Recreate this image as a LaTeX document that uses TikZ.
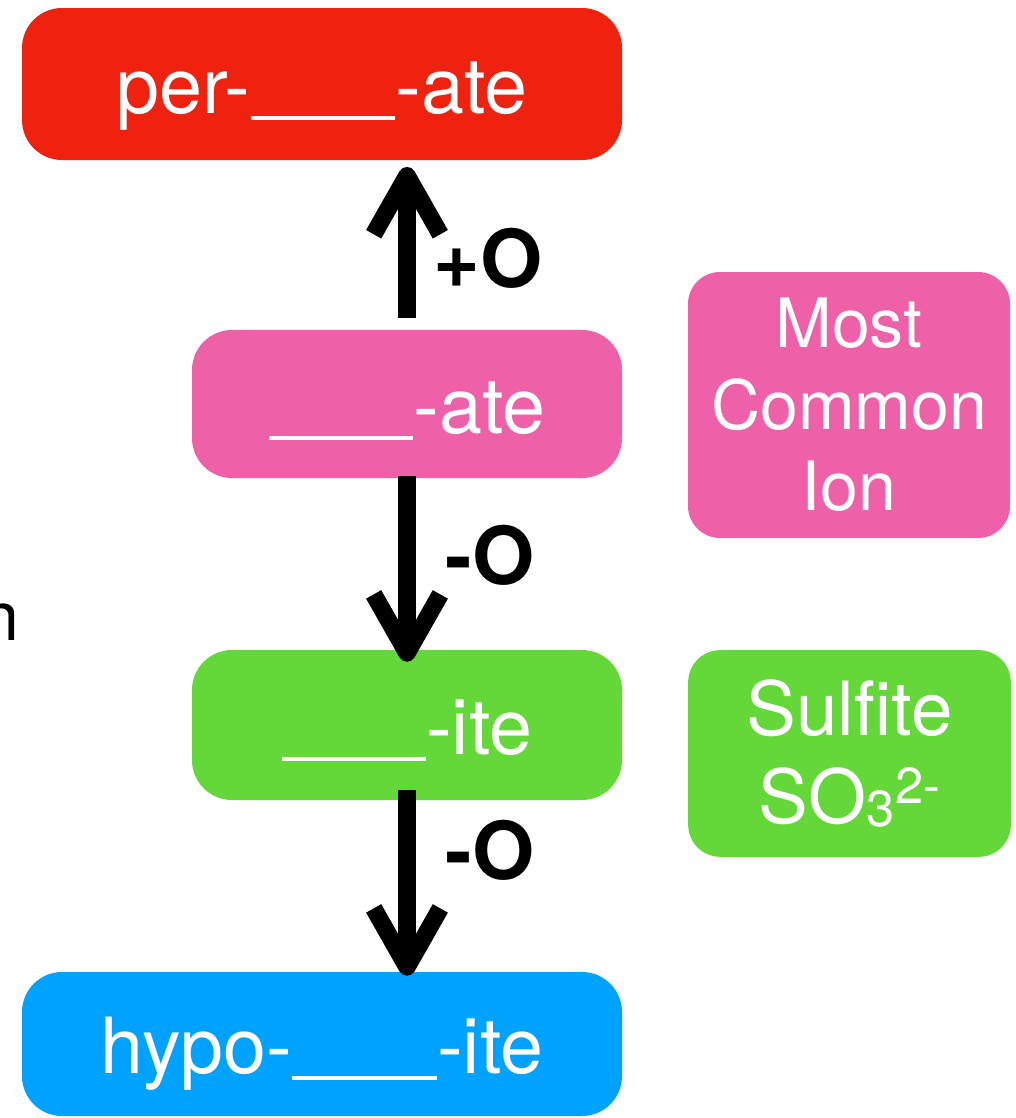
\documentclass[tikz,border=0pt]{standalone}
\usepackage{fontspec}
\setmainfont{TeX Gyre Heros}
\usetikzlibrary{arrows.meta}
\definecolor{cred}{HTML}{EE220F}
\definecolor{cpink}{HTML}{EE60A8}
\definecolor{cgreen}{HTML}{63D838}
\definecolor{cblue}{HTML}{00A2FF}
\newcommand\blankline{\rule[-0.09em]{1.87em}{0.055em}}
\begin{document}
\begin{tikzpicture}[x=0.75pt,y=-0.75pt,
  box/.style={rectangle, rounded corners=30pt, inner sep=0pt, text=white,
    font=\fontsize{58}{66}\selectfont, text height=44pt, text depth=0pt},
  side/.style={rectangle, rounded corners=24pt, inner sep=0pt, text=white,
    font=\fontsize{51}{61}\selectfont, align=center},
  lbl/.style={font=\bfseries\fontsize{60}{60}\selectfont, inner sep=0pt},
  arr/.style={line width=13pt, -{Straight Barb[length=44pt,width=50pt,line join=round]}}]
\useasboundingbox (0,0) rectangle (1015,1118);
\clip (0,0) rectangle (1015,1118);
\node[box, fill=cred, minimum width=450pt, minimum height=114pt] (red) at (322,84) {per-\blankline-ate};
\node[box, fill=cpink, minimum width=322.5pt, minimum height=111pt] (pm) at (407,404) {\blankline-ate};
\node[box, fill=cgreen, minimum width=322.5pt, minimum height=112.5pt] (gm) at (407,725) {\blankline-ite};
\node[box, fill=cblue, minimum width=450pt, minimum height=108pt] (blue) at (322,1044) {hypo-\blankline-ite};
\node[side, fill=cpink, minimum width=241.5pt, minimum height=199.5pt] (ps) at (849,405) {Most\\Common\\Ion};
\node[side, fill=cgreen, minimum width=242pt, minimum height=155pt,
  font=\fontsize{56}{66}\selectfont] (gs) at (849.5,753.5)
  {Sulfite\\SO\raisebox{-2pt}{\fontsize{38}{38}\selectfont 3}\raisebox{15pt}{\fontsize{38}{38}\selectfont 2-}};
\coordinate (redin) at (pm.north |- red.south);
\coordinate (bluein) at (gm.south |- blue.north);
\draw[arr] ([yshift=9pt]pm.north) -- ([yshift=-5pt]redin);
\draw[arr] ([yshift=1.5pt]pm.south) -- ([yshift=-9pt]gm.north);
\draw[arr] ([yshift=7.5pt]gm.south) -- ([yshift=-3pt]bluein);
\node[lbl] (l1) at (488,258) {+O};
\node[lbl] (l2) at (490,555) {-O};
\node[lbl] (l3) at (490,850) {-O};
\node[anchor=base, inner sep=0pt, font=\fontsize{51}{61}\selectfont] (cut) at (0,640) {n};
\end{tikzpicture}
\end{document}
